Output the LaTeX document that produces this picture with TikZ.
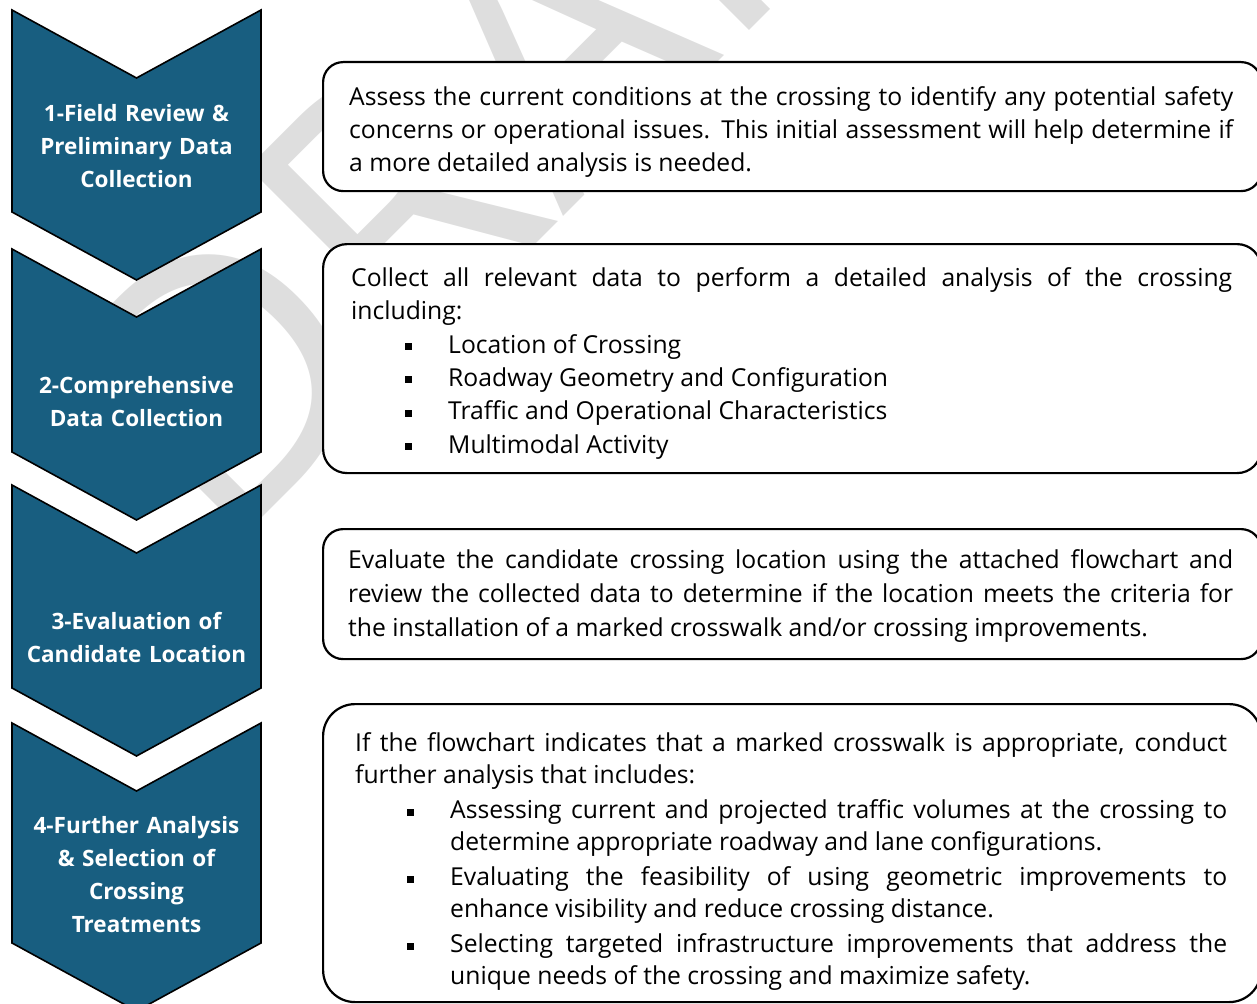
\documentclass[tikz,border=0pt]{standalone}
\usepackage{fontspec}
\setmainfont{Open Sans}
\definecolor{chevblue}{RGB}{24,94,128}
\definecolor{markgray}{RGB}{222,222,222}
\setlength{\parindent}{0pt}
\newcommand{\sqbullet}{\rule[3pt]{7pt}{7pt}}
\newcommand{\bulletitem}[2][96pt]{\par{\leftskip=#1\noindent\llap{\sqbullet\hspace{36pt}}#2\par}}

\tikzset{
	chevron/.style={fill=chevblue,draw=black,line width=1.6pt,line join=miter},
	phasetext/.style={text=white,align=center,text width=240pt,font=\bfseries\fontsize{22.5}{33}\selectfont},
	descbox/.style={draw=black,line width=2.2pt,fill=white,anchor=north west,minimum width=938pt},
	desctext/.style={anchor=north west,inner sep=0pt,align=justify,font=\fontsize{24.7}{33}\selectfont},
}

\begin{document}
\begin{tikzpicture}[x=1pt,y=-1pt]
	\useasboundingbox (0,0) rectangle (1257,1003);
	\node[rotate=45,anchor=base west,inner sep=0pt,text=markgray,font=\fontsize{360}{360}\selectfont] (draftmark) at (220,560) {DRAFT};
	\foreach \t/\h in {10/202,249/203,485/203,723/220}{
		\draw[chevron] (12,\t) -- (136.5,\t+68) -- (261,\t) -- (261,\t+\h) -- (136.5,\t+\h+68) -- (12,\t+\h) -- cycle;
	}
	\node[phasetext] (phase1) at (136.5,146) {1-Field Review \&\\Preliminary Data\\Collection};
	\node[phasetext] (phase2) at (136.5,402) {2-Comprehensive\\Data Collection};
	\node[phasetext] (phase3) at (136.5,637) {3-Evaluation of\\Candidate Location};
	\node[phasetext] (phase4) at (136.5,875) {4-Further Analysis\\\& Selection of\\Crossing\\Treatments};

	\node[descbox,rounded corners=20pt,minimum height=129pt] (box1) at (322,61) {};
	\node[descbox,rounded corners=24pt,minimum height=229pt] (box2) at (322,243) {};
	\node[descbox,rounded corners=20pt,minimum height=130pt] (box3) at (322,528) {};
	\node[descbox,rounded corners=32pt,minimum height=298pt] (box4) at (322,703) {};

	\node[desctext,text width=884pt] (desc1) at (349,82)
		{\strut Assess the current conditions at the crossing to identify any potential safety\linebreak concerns or operational issues. This initial assessment will help determine if\linebreak a more detailed analysis is needed.};
	\node[desctext,text width=881pt,font=\fontsize{24.7}{33.3}\selectfont] (desc2) at (351,263)
		{\strut Collect all relevant data to perform a detailed analysis of the crossing\linebreak including:
		\bulletitem[97pt]{Location of Crossing}
		\bulletitem[97pt]{Roadway Geometry and Configuration}
		\bulletitem[97pt]{Traffic and Operational Characteristics}
		\bulletitem[97pt]{Multimodal Activity}};
	\node[desctext,text width=885pt,font=\fontsize{24.7}{34}\selectfont] (desc3) at (348,544.5)
		{\strut Evaluate the candidate crossing location using the attached flowchart and\linebreak review the collected data to determine if the location meets the criteria for\linebreak the installation of a marked crosswalk and/or crossing improvements.};
	\node[desctext,text width=872pt,font=\fontsize{24.7}{32}\selectfont\setlength{\parskip}{3pt}] (desc4) at (355,729)
		{\strut If the flowchart indicates that a marked crosswalk is appropriate, conduct\linebreak further analysis that includes:
		\bulletitem[95pt]{Assessing current and projected traffic volumes at the crossing to\linebreak determine appropriate roadway and lane configurations.}
		\bulletitem[95pt]{Evaluating the feasibility of using geometric improvements to\linebreak enhance visibility and reduce crossing distance.}
		\bulletitem[95pt]{Selecting targeted infrastructure improvements that address the\linebreak unique needs of the crossing and maximize safety.}};
\end{tikzpicture}
\end{document}
